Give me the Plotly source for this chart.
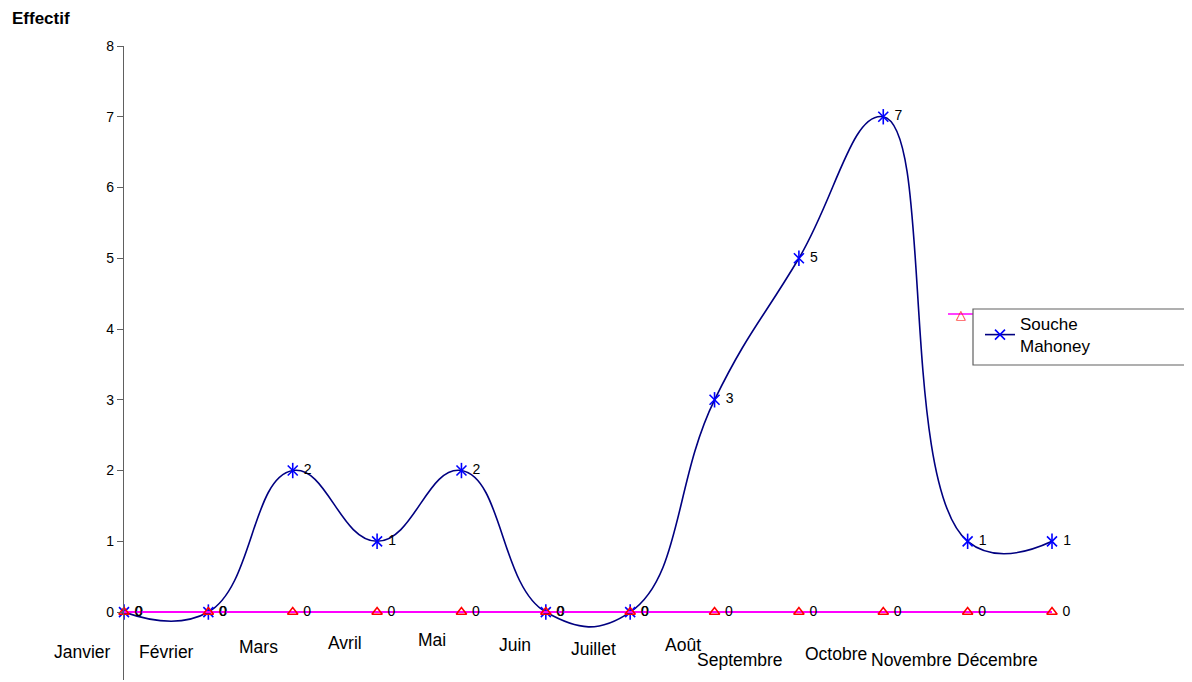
import plotly.graph_objects as go

mois = ["Janvier", "Février", "Mars", "Avril", "Mai", "Juin", "Juillet",
        "Août", "Septembre", "Octobre", "Novembre", "Décembre"]
mahoney = [0, 0, 2, 1, 2, 0, 0, 3, 5, 7, 1, 1]
autre = [0, 0, 0, 0, 0, 0, 0, 0, 0, 0, 0, 0]
y_ticks = [0, 1, 2, 3, 4, 5, 6, 7, 8]

FONT = "Liberation Sans, Arial, sans-serif"
idx = list(range(len(mois)))

fig = go.Figure()
# Mahoney smoothed line
fig.add_trace(go.Scatter(
    x=idx, y=mahoney, mode="lines+markers+text", name="Souche<br>Mahoney",
    line=dict(color="#000080", width=1.6, shape="spline", smoothing=1.3),
    marker=dict(symbol="x-thin-open", size=10, color="#0000FF",
                line=dict(color="#0000FF", width=1.6)),
    text=[" " + str(v) for v in mahoney], textposition="middle right",
    textfont=dict(family=FONT, size=14, color="black"),
    showlegend=True, cliponaxis=False,
))
fig.add_trace(go.Scatter(
    x=idx, y=mahoney, mode="markers", showlegend=False, hoverinfo="skip",
    marker=dict(symbol="line-ns-open", size=11, color="#0000FF",
                line=dict(color="#0000FF", width=1.6)),
    cliponaxis=False,
))
# Second series at zero (magenta line, red triangles)
fig.add_trace(go.Scatter(
    x=idx, y=autre, mode="lines+markers+text", name="Autre",
    line=dict(color="#FF00FF", width=2),
    marker=dict(symbol="triangle-up-open", size=9, color="#FF0000",
                line=dict(color="#FF0000", width=1.6)),
    text=[" " + str(v) for v in autre], textposition="middle right",
    textfont=dict(family=FONT, size=14, color="black"),
    showlegend=False, cliponaxis=False,
))

# Staggered month labels (x-shift in px, y in data units)
label_dx = [-42, -42, -34, -32, -29, -31, -37, -32, -59, -47, -56, -55]
label_y = [-0.57, -0.57, -0.50, -0.44, -0.40, -0.47, -0.52, -0.47, -0.68, -0.59, -0.68, -0.68]
for i, m in enumerate(mois):
    fig.add_annotation(x=i, y=label_y[i], xref="x", yref="y", text=m,
                       showarrow=False, xshift=label_dx[i],
                       font=dict(family=FONT, size=17.5, color="black"))

fig.add_annotation(x=-0.123, y=1.044, xref="paper", yref="paper", text="<b>Effectif</b>",
                   showarrow=False, xanchor="left", yanchor="middle",
                   font=dict(family=FONT, size=17, color="black"))

# Hidden first legend entry fragment + legend box
fig.add_shape(type="line", xref="paper", yref="paper",
              x0=(948 - 124) / 928, x1=(975 - 124) / 928,
              y0=(680 - 314) / 634, y1=(680 - 314) / 634,
              line=dict(color="#FF00FF", width=1.5))
fig.add_annotation(x=(966 - 124) / 928, y=(680 - 314) / 634, xref="paper", yref="paper",
                   text="△", showarrow=False, xshift=2,
                   font=dict(size=13, color="#FF0000"))
fig.add_shape(type="rect", xref="paper", yref="paper",
              x0=(973 - 124) / 928, x1=(1200 - 124) / 928,
              y0=(680 - 365) / 634, y1=(680 - 309) / 634,
              fillcolor="white", line=dict(color="#606060", width=1.2), layer="above")

# The page body has an 8px margin: the figure is sized/margined to compensate
fig.update_layout(
    width=1184, height=674,
    margin=dict(l=116, r=140, t=38, b=2),
    paper_bgcolor="white", plot_bgcolor="white",
    font=dict(family=FONT, size=14, color="black"),
    legend=dict(x=(980 - 124) / 928, y=(680 - 306) / 634, xanchor="left", yanchor="top",
                bgcolor="rgba(0,0,0,0)", borderwidth=0,
                font=dict(family=FONT, size=17, color="black")),
    xaxis=dict(range=[0, 11], showgrid=False, zeroline=False, showline=False,
               showticklabels=False, ticks=""),
    yaxis=dict(range=[-0.96, 8], tickvals=y_ticks, showgrid=False, zeroline=False,
               showline=True, linecolor="#606060", linewidth=1.2,
               ticks="outside", ticklen=6, tickcolor="#606060",
               tickfont=dict(family=FONT, size=14, color="black")),
)

fig.write_html("out.html")
